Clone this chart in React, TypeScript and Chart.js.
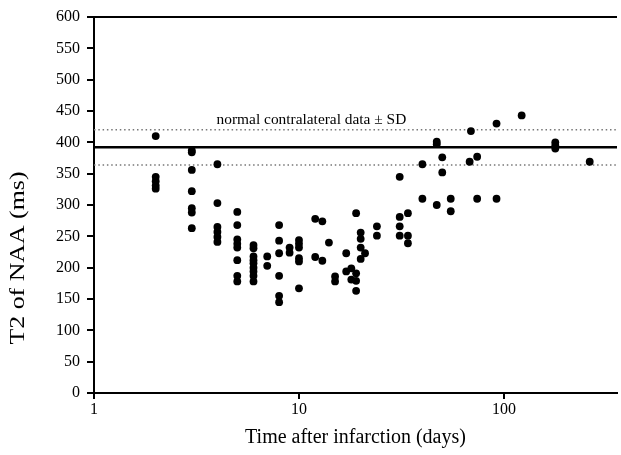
import { useEffect, useRef } from 'react';
import { Chart, registerables } from 'chart.js';

Chart.register(...registerables);

// ---- data ----
const sampleDays = [2, 3, 4, 5, 6, 7, 8, 9, 10, 12, 13, 14, 15, 17, 18, 19, 20, 21, 24, 31, 34, 40, 47, 50, 55, 68, 69, 74, 92, 122, 178, 262];
const t2ByDay = [
  [410, 345, 338, 331, 326],
  [387, 384, 356, 322, 295, 288, 263],
  [365, 303, 265, 257, 249, 241],
  [289, 268, 245, 238, 232, 212, 187, 178],
  [236, 231, 218, 212, 207, 200, 194, 187, 178],
  [218, 203],
  [268, 243, 223, 187, 155, 145],
  [232, 224],
  [244, 238, 232, 215, 210, 167],
  [278, 217],
  [274, 211],
  [240],
  [186, 178],
  [223, 194],
  [199, 181],
  [287, 191, 179, 163],
  [256, 246, 232, 214],
  [223],
  [266, 251],
  [345, 281, 266, 251],
  [287, 251, 239],
  [365, 310],
  [401, 397, 300],
  [376, 352],
  [310, 290],
  [369],
  [418],
  [377, 310],
  [430, 310],
  [443],
  [400, 395, 390],
  [369],
];
const normalMean = 392;
const normalSD = 28;
const xTickValues = [1, 10, 100];
const xMin = 1;
const xMax = 356;
const yMin = 0;
const yMax = 600;
const yStep = 50;
const annotationText = 'normal contralateral data \u00b1 SD';
const annotationDay = 11.5;
const xTitle = 'Time after infarction (days)';
const yTitle = 'T2 of NAA (ms)';

const FONT = '"Liberation Serif", "Times New Roman", serif';

export default function App() {
  const ref = useRef<HTMLCanvasElement>(null);

  useEffect(() => {
    if (!ref.current) return;
    const points: { x: number; y: number }[] = [];
    sampleDays.forEach((d, i) => t2ByDay[i].forEach((v) => points.push({ x: d, y: v })));

    const refLine = (y: number) => [
      { x: xMin, y },
      { x: xMax, y },
    ];

    const decor = {
      id: 'decor',
      afterDraw(chart: any) {
        const { ctx, chartArea, scales } = chart;
        ctx.save();
        // top frame line
        ctx.strokeStyle = '#000';
        ctx.lineWidth = 2;
        ctx.beginPath();
        ctx.moveTo(chartArea.left, chartArea.top);
        ctx.lineTo(chartArea.right, chartArea.top);
        ctx.stroke();
        // annotation text
        ctx.fillStyle = '#000';
        ctx.font = `15.4px ${FONT}`;
        ctx.textAlign = 'center';
        ctx.textBaseline = 'alphabetic';
        ctx.fillText(
          annotationText,
          scales.x.getPixelForValue(annotationDay),
          scales.y.getPixelForValue(normalMean + normalSD) - 6
        );
        // y axis title
        ctx.translate(18, 258);
        ctx.rotate(-Math.PI / 2);
        ctx.font = `22px ${FONT}`;
        ctx.textBaseline = 'middle';
        const w = ctx.measureText(yTitle).width;
        ctx.scale(173 / w, 1);
        ctx.fillText(yTitle, 0, 0);
        ctx.restore();
      },
    };

    const chart = new Chart(ref.current, {
      type: 'scatter',
      data: {
        datasets: [
          {
            data: points,
            backgroundColor: '#000',
            borderColor: '#000',
            pointRadius: 3.9,
            pointBorderWidth: 0,
            order: 0,
          },
          {
            data: refLine(normalMean),
            showLine: true,
            borderColor: '#000',
            borderWidth: 2.5,
            pointRadius: 0,
            order: 1,
          },
          {
            data: refLine(normalMean + normalSD),
            showLine: true,
            borderColor: '#777',
            borderWidth: 1.5,
            borderDash: [1.5, 2.8],
            pointRadius: 0,
            order: 1,
          },
          {
            data: refLine(normalMean - normalSD),
            showLine: true,
            borderColor: '#777',
            borderWidth: 1.5,
            borderDash: [1.5, 2.8],
            pointRadius: 0,
            order: 1,
          },
        ],
      },
      options: {
        responsive: false,
        animation: false,
        devicePixelRatio: 1,
        layout: { padding: { top: 17, left: 0, right: 0, bottom: 0 } },
        plugins: { legend: { display: false }, tooltip: { enabled: false } },
        scales: {
          x: {
            type: 'logarithmic',
            min: xMin,
            max: xMax,
            afterBuildTicks: (axis: any) => {
              axis.ticks = xTickValues.map((v) => ({ value: v }));
            },
            afterFit: (axis: any) => {
              axis.height = 62;
            },
            ticks: {
              callback: (v: any) => String(v),
              font: { family: FONT, size: 16 },
              color: '#000',
              padding: 1,
              maxRotation: 0,
              autoSkip: false,
            },
            grid: { drawOnChartArea: false, color: '#000', lineWidth: 2, tickLength: 6 },
            border: { color: '#000', width: 2 },
            title: {
              display: true,
              text: xTitle,
              color: '#000',
              font: { family: FONT, size: 20, lineHeight: 0.9 },
              padding: { top: 0, bottom: 8 },
            },
          },
          y: {
            min: yMin,
            max: yMax,
            afterFit: (axis: any) => {
              axis.width = 94;
            },
            ticks: {
              stepSize: yStep,
              font: { family: FONT, size: 16 },
              color: '#000',
              padding: 7,
            },
            grid: { drawOnChartArea: false, color: '#000', lineWidth: 2, tickLength: 7 },
            border: { color: '#000', width: 2 },
          },
        },
      },
      plugins: [decor],
    });
    return () => chart.destroy();
  }, []);

  return (
    <div style={{ position: 'absolute', left: 0, top: 0, width: 621, height: 455, background: '#fff' }}>
      <canvas ref={ref} width={621} height={455} style={{ display: 'block', width: 621, height: 455 }} />
    </div>
  );
}
